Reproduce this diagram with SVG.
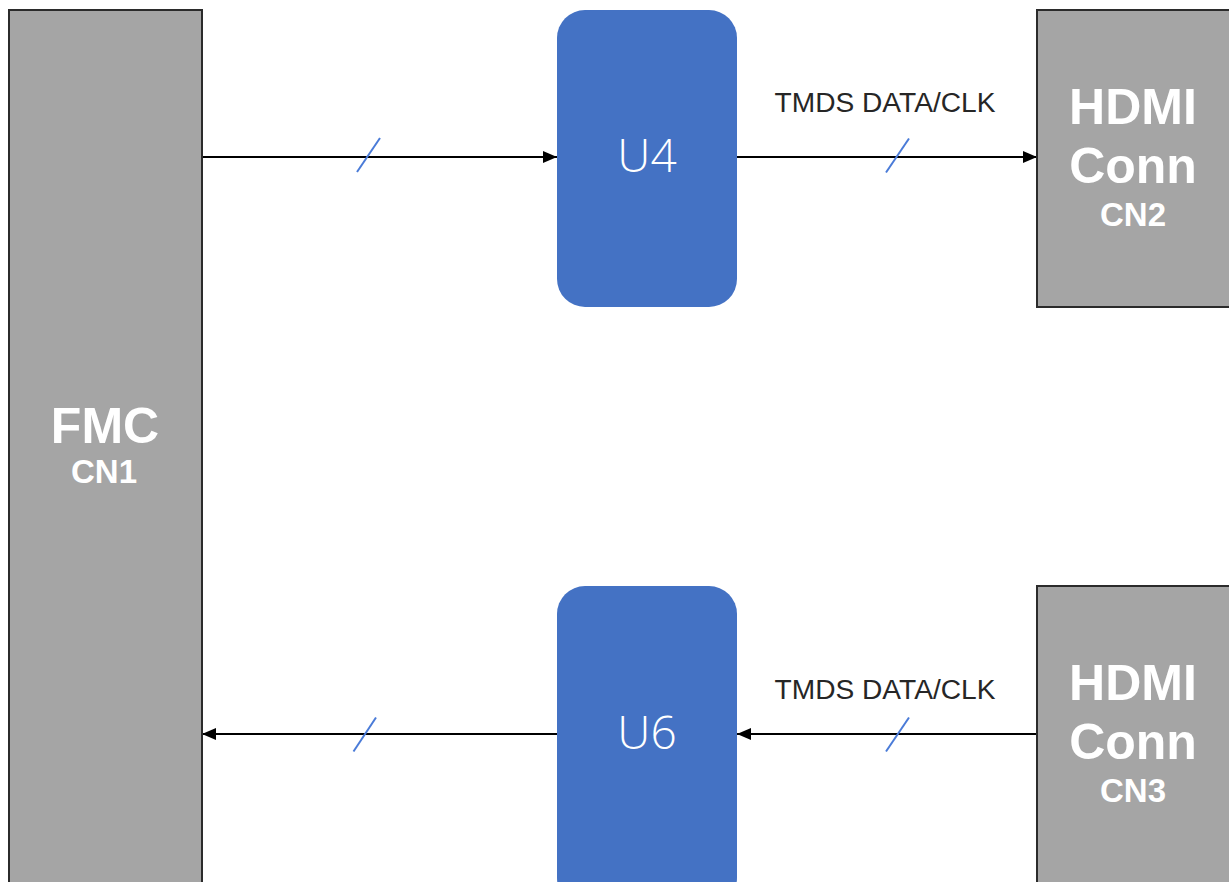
<svg xmlns="http://www.w3.org/2000/svg" width="1229" height="882" viewBox="0 0 1229 882">
<defs>
<style>
.conn{fill:#A5A5A5;stroke:#2b2b2b;stroke-width:2}
.chip{fill:#4472C4}
.big{font-family:"Liberation Sans",Arial,sans-serif;font-weight:bold;fill:#ffffff;text-anchor:middle}
.chipt{font-family:"Open Sans","Liberation Sans",sans-serif;font-weight:300;font-size:46px;fill:#ffffff;text-anchor:middle}
.lbl{font-family:"Liberation Sans",Arial,sans-serif;font-size:27px;fill:#262626;text-anchor:middle}
.wire{stroke:#000;stroke-width:2;fill:none}
.slash{stroke:#4A7BD8;stroke-width:2;fill:none}
</style>
<marker id="ah" viewBox="0 0 14 12" refX="14" refY="6" markerWidth="14" markerHeight="12" markerUnits="userSpaceOnUse" orient="auto">
<path d="M0,0 L14,6 L0,12 Z" fill="#000"/>
</marker>
</defs>
<rect width="1229" height="882" fill="#ffffff"/>
<g id="connectors">
<line class="wire" x1="202" y1="157" x2="557" y2="157" marker-end="url(#ah)"/>
<line class="slash" x1="357" y1="172" x2="380" y2="138"/>
<line class="wire" x1="737" y1="157" x2="1037" y2="157" marker-end="url(#ah)"/>
<line class="slash" x1="886" y1="172.5" x2="909" y2="138.5"/>
<text class="lbl" x="885" y="111.5" textLength="221" lengthAdjust="spacingAndGlyphs">TMDS DATA/CLK</text>
<line class="wire" x1="557" y1="734" x2="202" y2="734" marker-end="url(#ah)"/>
<line class="slash" x1="353.5" y1="751.5" x2="376" y2="717.5"/>
<line class="wire" x1="1037" y1="734" x2="737" y2="734" marker-end="url(#ah)"/>
<line class="slash" x1="886" y1="751.5" x2="909" y2="717.5"/>
<text class="lbl" x="885" y="699" textLength="221" lengthAdjust="spacingAndGlyphs">TMDS DATA/CLK</text>
</g>
<g id="fmc">
<rect class="conn" x="9" y="10" width="193" height="900"/>
<text class="big" x="105" y="443" font-size="50">FMC</text>
<text class="big" x="104" y="483" font-size="33">CN1</text>
</g>
<g id="u4">
<rect class="chip" x="557" y="10" width="180" height="297" rx="28" ry="28"/>
<text class="chipt" x="647" y="172">U4</text>
</g>
<g id="cn2">
<rect class="conn" x="1037" y="10" width="210" height="297"/>
<text class="big" x="1133" y="124" font-size="50">HDMI</text>
<text class="big" x="1133" y="182.5" font-size="50">Conn</text>
<text class="big" x="1133" y="225.5" font-size="33">CN2</text>
</g>
<g id="u6">
<rect class="chip" x="557" y="586" width="180" height="320" rx="28" ry="28"/>
<text class="chipt" x="647" y="749">U6</text>
</g>
<g id="cn3">
<rect class="conn" x="1037" y="586" width="210" height="320"/>
<text class="big" x="1133" y="700" font-size="50">HDMI</text>
<text class="big" x="1133" y="758.5" font-size="50">Conn</text>
<text class="big" x="1133" y="801.5" font-size="33">CN3</text>
</g>
</svg>
